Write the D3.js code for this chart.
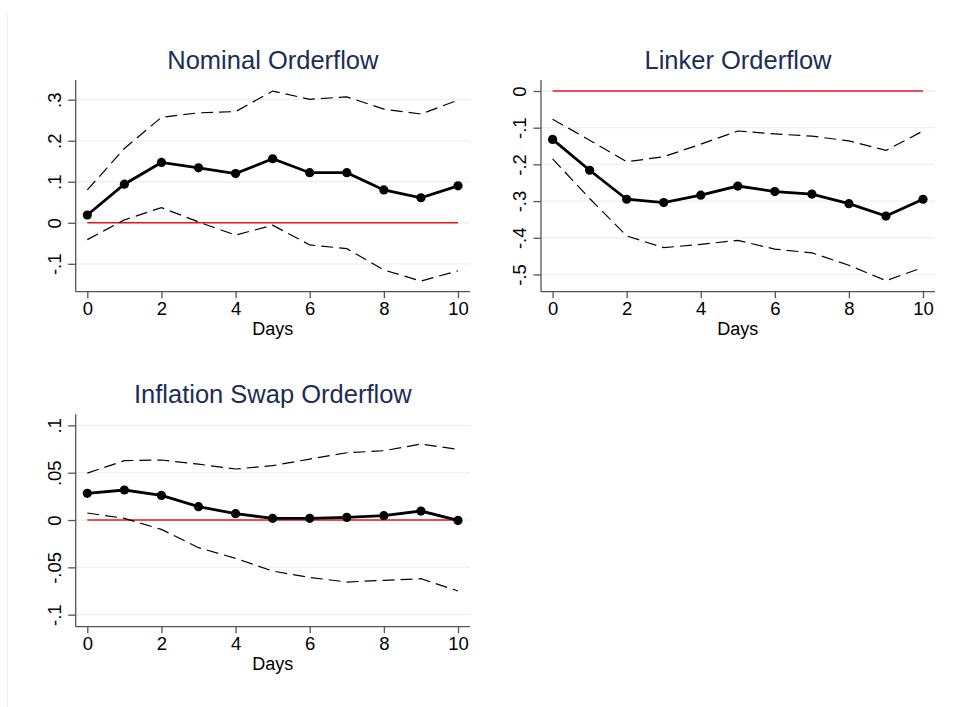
<!DOCTYPE html>
<html>
<head>
<meta charset="UTF-8">
<title>Orderflow impulse responses</title>
<style>
  body { margin: 0; background: #fff; }
  svg { display: block; font-family: "Liberation Sans", Arial, sans-serif; }
</style>
</head>
<body>
<svg></svg>
<script src="https://d3js.org/d3.v7.min.js"></script>
<script>

let width = 956, height = 707;

// data
let days = [0, 1, 2, 3, 4, 5, 6, 7, 8, 9, 10];

let nominalEst   = [0.019, 0.094, 0.147, 0.134, 0.120, 0.156, 0.122, 0.122, 0.080, 0.061, 0.090];
let nominalUpper = [0.080, 0.181, 0.257, 0.268, 0.271, 0.321, 0.301, 0.307, 0.277, 0.265, 0.299];
let nominalLower = [-0.041, 0.007, 0.037, 0.002, -0.030, -0.006, -0.054, -0.063, -0.115, -0.142, -0.117];

let linkerEst   = [-0.132, -0.216, -0.295, -0.304, -0.284, -0.259, -0.274, -0.281, -0.307, -0.341, -0.295];
let linkerUpper = [-0.077, -0.134, -0.193, -0.179, -0.145, -0.109, -0.117, -0.123, -0.136, -0.162, -0.109];
let linkerLower = [-0.185, -0.293, -0.395, -0.427, -0.418, -0.407, -0.431, -0.441, -0.475, -0.517, -0.481];

let swapEst   = [0.0282, 0.0317, 0.026, 0.0141, 0.0067, 0.0018, 0.0018, 0.0028, 0.0046, 0.0095, -0.0004];
let swapUpper = [0.0496, 0.0627, 0.0634, 0.059, 0.0539, 0.0574, 0.0644, 0.0711, 0.0732, 0.0803, 0.0746];
let swapLower = [0.0074, 0.0018, -0.0099, -0.0292, -0.0405, -0.0539, -0.0606, -0.0655, -0.0637, -0.062, -0.075];

let xTicks = [0, 2, 4, 6, 8, 10];
let nominalTicks = [-0.1, 0, 0.1, 0.2, 0.3];
let linkerTicks = [-0.5, -0.4, -0.3, -0.2, -0.1, 0];
let swapTicks = [-0.1, -0.05, 0, 0.05, 0.1];

// stata style labels: ".1", "-.05", "0"
function stataFmt(v) {
    if (Math.abs(v) < 1e-9) return "0";
    let s = String(+v.toFixed(3));
    return s.replace(/^(-?)0\./, "$1.");
}

let panels = [
    { title: "Nominal Orderflow", est: nominalEst, upper: nominalUpper, lower: nominalLower,
      ticks: nominalTicks, yDomain: [-0.168, 0.348], box: [75.7, 80, 470, 291.7] },
    { title: "Linker Orderflow", est: linkerEst, upper: linkerUpper, lower: linkerLower,
      ticks: linkerTicks, yDomain: [-0.547, 0.030], box: [541, 80, 935, 291.7] },
    { title: "Inflation Swap Orderflow", est: swapEst, upper: swapUpper, lower: swapLower,
      ticks: swapTicks, yDomain: [-0.1127, 0.1117], box: [75.7, 414.3, 470, 626.7] }
];

let svg = d3.select("svg")
    .attr("width", width)
    .attr("height", height)
    .attr("viewBox", "0 0 " + width + " " + height);

// faint outer edge of the graph region
svg.append("line")
    .attr("x1", 7.5).attr("x2", 7.5)
    .attr("y1", 14).attr("y2", height)
    .attr("stroke", "#eeeeee")
    .attr("stroke-width", 1);

panels.forEach(p => {
    let [x0, y0, x1, y1] = p.box;

    let x = d3.scaleLinear().domain([0, 10]).range([x0 + 11.6, x1 - 12]);
    let y = d3.scaleLinear().domain(p.yDomain).range([y1, y0]);

    let g = svg.append("g");

    // gridlines
    g.append("g")
        .selectAll("line")
        .data(p.ticks)
        .enter()
        .append("line")
        .attr("x1", x0).attr("x2", x1)
        .attr("y1", d => y(d)).attr("y2", d => y(d))
        .attr("stroke", "#eaf2f3")
        .attr("stroke-width", 1.3);

    // y axis
    let yAxis = g.append("g")
        .attr("transform", "translate(" + x0 + ",0)")
        .call(d3.axisLeft(y).tickValues(p.ticks).tickSize(7.5).tickPadding(0).tickFormat(stataFmt));
    yAxis.select(".domain").attr("d", "M0," + y0 + "V" + y1);
    yAxis.selectAll("path, line").attr("stroke", "#555").attr("stroke-width", 1.3);
    yAxis.selectAll("text")
        .attr("x", null).attr("dy", null).attr("y", null)
        .attr("text-anchor", "middle")
        .attr("transform", "translate(-15,0) rotate(-90)")
        .attr("font-size", 18.5)
        .attr("font-family", "Liberation Sans, Arial, sans-serif")
        .attr("fill", "#000");

    // x axis
    let xAxis = g.append("g")
        .attr("transform", "translate(0," + y1 + ")")
        .call(d3.axisBottom(x).tickValues(xTicks).tickSize(6.5).tickPadding(0).tickFormat(d3.format("d")));
    xAxis.select(".domain").attr("d", "M" + x0 + ",0H" + x1);
    xAxis.selectAll("path, line").attr("stroke", "#555").attr("stroke-width", 1.3);
    xAxis.selectAll("text")
        .attr("y", 23).attr("dy", null)
        .attr("font-size", 18.5)
        .attr("font-family", "Liberation Sans, Arial, sans-serif")
        .attr("fill", "#000");

    g.append("text")
        .attr("x", (x(0) + x(10)) / 2)
        .attr("y", y1 + 43)
        .attr("text-anchor", "middle")
        .attr("font-size", 18)
        .text("Days");

    // title
    g.append("text")
        .attr("x", (x0 + x1) / 2)
        .attr("y", y0 - 11)
        .attr("text-anchor", "middle")
        .attr("font-size", 25.5)
        .attr("fill", "#1c2d57")
        .text(p.title);

    // zero line
    g.append("line")
        .attr("x1", x(0)).attr("x2", x(10))
        .attr("y1", y(0)).attr("y2", y(0))
        .attr("stroke", "#e8161b")
        .attr("stroke-width", 1.6);

    let line = d3.line().x((d, i) => x(days[i])).y(d => y(d));

    [p.upper, p.lower].forEach(band => {
        g.append("path")
            .attr("d", line(band))
            .attr("fill", "none")
            .attr("stroke", "#000")
            .attr("stroke-width", 1.2)
            .attr("stroke-dasharray", "12,6");
    });

    g.append("path")
        .attr("d", line(p.est))
        .attr("fill", "none")
        .attr("stroke", "#000")
        .attr("stroke-width", 2.8);

    g.append("g")
        .selectAll("circle")
        .data(p.est)
        .enter()
        .append("circle")
        .attr("cx", (d, i) => x(days[i]))
        .attr("cy", d => y(d))
        .attr("r", 4.6)
        .attr("fill", "#000");
});

</script>
</body>
</html>
